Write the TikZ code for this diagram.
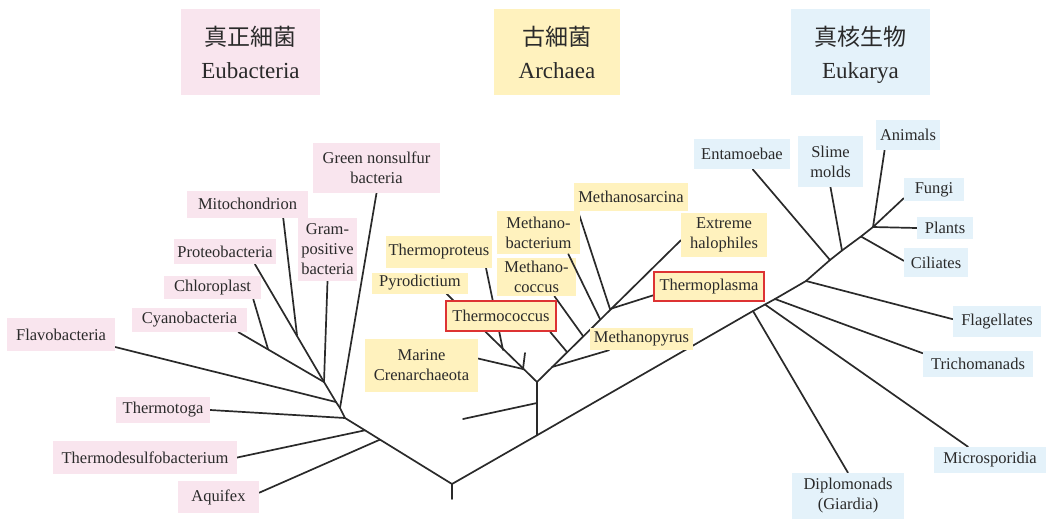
\documentclass[tikz,border=0pt]{standalone}
\usepackage{fontspec}
\setmainfont{Liberation Serif}
\newfontfamily\cjkfont{Noto Sans CJK JP}
\usetikzlibrary{backgrounds}
\definecolor{pinkbg}{HTML}{F9E5EE}
\definecolor{yelbg}{HTML}{FFF2BE}
\definecolor{bluebg}{HTML}{E4F2FA}
\definecolor{ink}{HTML}{2A2A2A}
\definecolor{hotred}{HTML}{DD3333}
\begin{document}
\begin{tikzpicture}[x=1pt,y=-1pt,
  sz/.style 2 args={minimum width=#1pt,minimum height=#2pt},
  lbl/.style={rectangle,inner sep=0pt,align=center,text=ink,font=\fontsize{16.5}{20}\selectfont},
  bac/.style={lbl,fill=pinkbg},
  arc/.style={lbl,fill=yelbg},
  euk/.style={lbl,fill=bluebg},
  hot/.style={draw=hotred,line width=2pt},
  hdr/.style={rectangle,inner sep=0pt,align=center,text=ink,font=\fontsize{23}{33}\selectfont},
  br/.style={draw=ink,line width=1.7pt,line join=round,line cap=round}]
\useasboundingbox (0,0) rectangle (1047,523);

% ---------- headers
\node[hdr,fill=pinkbg,sz={139}{86}] (hEu) at (250.5,52) {{\cjkfont 真正細菌}\\Eubacteria};
\node[hdr,fill=yelbg,sz={126}{86}] (hAr) at (557,52) {{\cjkfont 古細菌}\\Archaea};
\node[hdr,fill=bluebg,sz={139}{86}] (hEk) at (860.5,52) {{\cjkfont 真核生物}\\\raisebox{0pt}[\height][0pt]{Eukarya}};

% ---------- Eubacteria labels
\node[bac,sz={127}{50}] (green) at (376.5,168) {Green nonsulfur\\bacteria};
\node[bac,sz={121}{27}] (mito) at (247.5,204) {Mitochondrion};
\node[bac,sz={59}{63}] (gram) at (327.5,249.5) {Gram-\\positive\\bacteria};
\node[bac,sz={102}{25}] (proteo) at (225,251.5) {Proteobacteria};
\node[bac,sz={97}{23}] (chloro) at (212.5,287.5) {Chloroplast};
\node[bac,sz={115}{24}] (cyano) at (189.5,320) {Cyanobacteria};
\node[bac,sz={108}{33}] (flavo) at (61,334.5) {Flavobacteria};
\node[bac,sz={94}{26}] (tmtoga) at (163,410) {Thermotoga};
\node[bac,sz={184}{33}] (tdesulfo) at (145,457.5) {Thermodesulfobacterium};
\node[bac,sz={81}{32}] (aquifex) at (218.5,497) {Aquifex};

% ---------- Archaea labels
\node[arc,sz={114}{28}] (msarcina) at (631,197) {Methanosarcina};
\node[arc,sz={83}{43}] (mbact) at (538.5,232.5) {Methano-\\bacterium};
\node[arc,sz={86}{44}] (halo) at (724,235) {Extreme\\halophiles};
\node[arc,sz={106}{32}] (tproteus) at (439,252) {Thermoproteus};
\node[arc,sz={79}{38}] (mcoccus) at (536.5,277) {Methano-\\coccus};
\node[arc,sz={96}{21}] (pyro) at (420,283) {Pyrodictium};
\node[arc,hot,sz={110}{29}] (tplasma) at (709,286.5) {Thermoplasma};
\node[arc,hot,sz={110}{30}] (tcoccus) at (501,316) {Thermococcus};
\node[arc,sz={103}{22}] (mpyrus) at (641.5,339) {Methanopyrus};
\node[arc,sz={113}{53}] (marine) at (421.5,365.5) {Marine\\Crenarchaeota};

% ---------- Eukarya labels
\node[euk,sz={96}{30}] (entam) at (742,154) {Entamoebae};
\node[euk,sz={65}{51}] (slime) at (830.5,161.5) {Slime\\molds};
\node[euk,sz={64}{30}] (animals) at (908,135) {Animals};
\node[euk,sz={60}{23}] (fungi) at (934,189.5) {Fungi};
\node[euk,sz={56}{22}] (plants) at (945,228) {Plants};
\node[euk,sz={64}{29}] (ciliates) at (936,262.5) {Ciliates};
\node[euk,sz={88}{31}] (flag) at (997,321.5) {Flagellates};
\node[euk,sz={110}{26}] (tricho) at (978,364) {Trichomanads};
\node[euk,sz={112}{26}] (micro) at (990,460) {Microsporidia};
\node[euk,sz={112}{46}] (diplo) at (848,496) {Diplomonads\\(Giardia)};

% ---------- junctions
\coordinate (r0) at (452,499);
\coordinate (r) at (452,484);
\coordinate (bA) at (380,439.6);
\coordinate (bD) at (365,430.3);
\coordinate (b0) at (345,418);
\coordinate (bG) at (340,408);
\coordinate (bF) at (336,402);
\coordinate (b3) at (324,382);
\coordinate (bC) at (268,349);
\coordinate (bM) at (297,335);
\coordinate (a0) at (537,435.3);
\coordinate (aS) at (537,403);
\coordinate (aSend) at (463,419);
\coordinate (a1) at (537,382);
\coordinate (a2) at (523,369);
\coordinate (aStub) at (525,353);
\coordinate (a3) at (503,350);
\coordinate (aP) at (552,367);
\coordinate (aT) at (567,352);
\coordinate (aC) at (583,336);
\coordinate (aB) at (600,319);
\coordinate (aM) at (610,309);
\coordinate (e1) at (753,311);
\coordinate (e2) at (765,304.5);
\coordinate (e3) at (775,299);
\coordinate (e4) at (806,281);
\coordinate (e5) at (830,260);
\coordinate (e6) at (842,250.5);
\coordinate (e7) at (861,236.5);
\coordinate (e8) at (873,227);

\begin{scope}[on background layer]
% trunk
\draw[br] (r0) -- (r);
\draw[br] (r) -- (bA) -- (bD) -- (b0) -- (bG) -- (bF) -- (b3);
\draw[br] (r) -- (a0) -- (e1) -- (e2) -- (e3) -- (e4) -- (e5) -- (e6) -- (e7) -- (e8);
% Eubacteria
\draw[br] (bA) -- (aquifex.6);
\draw[br] (bD) -- (tdesulfo.east);
\draw[br] (b0) -- (tmtoga.east);
\draw[br] (bG) -- (green.south);
\draw[br] (bF) -- (flavo.-13);
\draw[br] (b3) -- (gram.south);
\draw[br] (b3) -- (proteo.-23);
\draw[br] (bM) -- (mito.-21);
\draw[br] (b3) -- (cyano.-14);
\draw[br] (bC) -- (chloro.-16);
% Archaea
\draw[br] (a0) -- (a1);
\draw[br] (aS) -- (aSend);
\draw[br] (a1) -- (pyro.-22);
\draw[br] (a2) -- (marine.7);
\draw[br] (a2) -- (aStub);
\draw[br] (a3) -- (tproteus.-19);
\draw[br] (a1) -- (halo.187);
\draw[br] (aP) -- (mpyrus.199);
\draw[br] (aT) -- (tcoccus.-18);
\draw[br] (aC) -- (mcoccus.-47);
\draw[br] (aM) -- (msarcina.195);
\draw[br] (aM) -- (tplasma.189);
% Eukarya
\draw[br] (e1) -- (diplo.north);
\draw[br] (e2) -- (micro.149);
\draw[br] (e3) -- (tricho.169);
\draw[br] (e4) -- (flag.177);
\draw[br] (e5) -- (entam.-55);
\draw[br] (e6) -- (slime.south);
\draw[br] (e7) -- (ciliates.177);
\draw[br] (e8) -- (plants.west);
\draw[br] (e8) -- (fungi.196);
\draw[br] (e8) -- (animals.213);
\end{scope}
\draw[br] (aB) -- (mbact.-36);
\end{tikzpicture}
\end{document}
